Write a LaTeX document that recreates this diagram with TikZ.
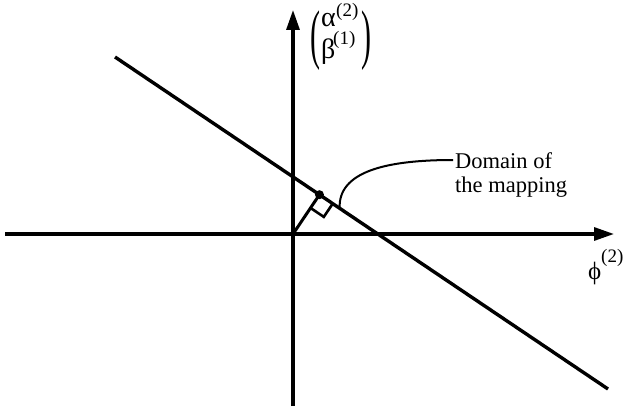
\documentclass[tikz,border=0pt]{standalone}
\usepackage{fontspec}
\usepackage{graphicx}
\setmainfont{Liberation Serif}
\usetikzlibrary{arrows.meta,calc}
\begin{document}
\begin{tikzpicture}[x=1pt,y=-1pt,
  axis/.style={line width=3.2pt,-{Triangle[length=20pt,width=13pt]}},
  thick line/.style={line width=3.4pt},
  lbl/.style={font=\fontsize{22.5}{26}\selectfont,inner sep=0pt,anchor=base west},
  greek/.style={font=\fontsize{28}{30}\selectfont,inner sep=0pt,anchor=base west},
  sup/.style={font=\fontsize{19}{20}\selectfont,inner sep=0pt,anchor=base west},
  parenlbl/.style={font=\fontsize{30}{30}\selectfont,inner sep=0pt}]
\useasboundingbox (0,0) rectangle (623,409);
\coordinate (hs) at (5,234);
\coordinate (he) at (614,234);
\coordinate (vs) at (293,406);
\coordinate (ve) at (293,10);
\coordinate (O) at (293,234);
\coordinate (L1) at (115,57);
\coordinate (L2) at (608,389);
\draw[axis] (hs) -- (he);
\draw[axis] (vs) -- (ve);
\draw[thick line] (L1) -- (L2);
% foot of perpendicular
\coordinate (F) at ($(L1)!(O)!(L2)$);
\draw[line width=3pt] (O) -- (F);
\coordinate (Fa) at ($(F)!16pt!(L2)$);
\coordinate (Fb) at ($(F)!16pt!(O)$);
\coordinate (Fc) at ($(Fa)+(Fb)-(F)$);
\draw[line width=2.6pt] (Fa) -- (Fc) -- (Fb);
\fill (F) circle (4.5pt);
% callout
\coordinate (C1) at ($(L1)!0.4557!(L2)$);
\node[lbl] (dom1) at (455,168) {Domain of};
\node[lbl] (dom2) at (455,192) {the mapping};
\coordinate (CE) at (453,160);
\draw[line width=2pt] (C1) .. controls (338,172) and (385,160) .. (CE);
% labels
\node[greek] (al) at (321,27) {α};
\node[sup] (al2) at (336,17) {(2)};
\node[greek] (be) at (321,59) {β};
\node[sup] (be1) at (333,45) {(1)};
\node[parenlbl] (lp) at (315,41) {\scalebox{1}[2.2]{(}};
\node[parenlbl] (rp) at (366,41) {\scalebox{1}[2.2]{)}};
\node[greek,font=\fontsize{25}{28}\selectfont] (phi) at (588,279) {ϕ};
\node[sup] (phi2) at (601,262) {(2)};
\end{tikzpicture}
\end{document}
